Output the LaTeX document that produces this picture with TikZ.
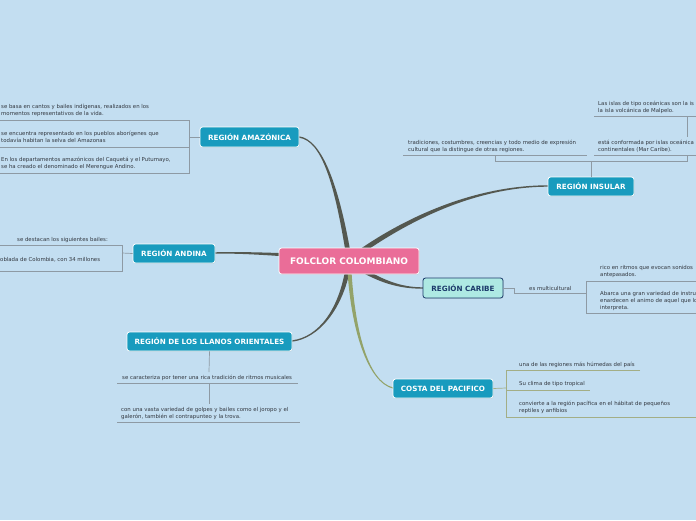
\documentclass[tikz,border=0pt]{standalone}
\usepackage{fontspec}
\setmainfont{DejaVu Sans}
\usetikzlibrary{shadows}
\definecolor{bg}{HTML}{C3DEF1}
\definecolor{tealc}{HTML}{189BBE}
\definecolor{pinkc}{HTML}{EA6D98}
\definecolor{carfill}{HTML}{AEE9E3}
\definecolor{navy}{HTML}{1C3A6B}
\definecolor{txt}{HTML}{333840}
\definecolor{lineg}{HTML}{8E9AA4}
\definecolor{lineo}{HTML}{A3AE86}
\definecolor{branch}{HTML}{545850}
\definecolor{olive}{HTML}{93A36A}
\tikzset{
  topic/.style={rounded corners=2.5pt, draw=white, line width=0.8pt, fill=tealc, text=white,
    font=\bfseries\fontsize{7.2}{8}\selectfont, inner sep=0pt,
    drop shadow={opacity=0.25,shadow xshift=0.6pt,shadow yshift=-0.6pt}},
  sub/.style={font=\fontsize{5.4}{7}\selectfont, text=txt, align=left, inner sep=0pt, anchor=west},
  sline/.style={draw=lineg, line width=0.7pt},
  oline/.style={draw=lineo, line width=0.7pt},
}
\begin{document}
\begin{tikzpicture}[x=1pt,y=-1pt]
\useasboundingbox (0,0) rectangle (696,520);
\fill[bg] (0,0) rectangle (696,520);
\clip (0,0) rectangle (696,520);

% tapered branches
\fill[branch] (351.5,258) .. controls (339,185) and (322,139.3) .. (299,136.3) -- (299,137.7) .. controls (322,140.7) and (335,185) .. (346.5,258) -- cycle;
\fill[branch] (349,255.5) .. controls (300,254) and (250,251.2) .. (215,252.3) -- (215,253.7) .. controls (250,252.8) and (300,258) .. (349,260.5) -- cycle;
\fill[branch] (350.5,262) .. controls (411.5,217) and (480,186.7) .. (548,186.7) -- (548,185.3) .. controls (480,185.3) and (408.5,213) .. (347.5,258) -- cycle;
\fill[branch] (348,264) .. controls (379,284) and (400,288.7) .. (423,288.7) -- (423,287.3) .. controls (400,287.3) and (381,280) .. (350.5,260) -- cycle;
\fill[branch] (346.5,262) .. controls (340,310) and (318,337.3) .. (292,340.3) -- (292,341.7) .. controls (318,338.7) and (344,310) .. (351.5,262) -- cycle;
\fill[olive] (347,262) .. controls (350,330) and (368,382.6) .. (393,388.6) -- (393,387.4) .. controls (368,381.4) and (354,330) .. (351,262) -- cycle;

% nodes
\node[topic, fill=pinkc, minimum width=140pt, minimum height=26pt, font=\bfseries\fontsize{9}{10}\selectfont] (c) at (349,261) {FOLCLOR COLOMBIANO};
\node[topic, minimum width=99pt, minimum height=20pt] (amaz) at (249.5,137) {REGIÓN AMAZÓNICA};
\node[topic, minimum width=82pt, minimum height=19pt] (andina) at (174,253.5) {REGIÓN ANDINA};
\node[topic, minimum width=86pt, minimum height=19pt] (insular) at (591,186.5) {REGIÓN INSULAR};
\node[topic, fill=carfill, draw=navy, text=navy, minimum width=80pt, minimum height=20pt] (caribe) at (463,288) {REGIÓN CARIBE};
\node[topic, minimum width=165pt, minimum height=19pt] (llanos) at (209.5,341.5) {REGIÓN DE LOS LLANOS ORIENTALES};
\node[topic, minimum width=100pt, minimum height=19pt] (pac) at (443,388.5) {COSTA DEL PACIFICO};

% Amazonica
\coordinate (a0) at (189,137);
\coordinate (a1) at (189,120); \coordinate (a1l) at (0,120);
\coordinate (a2) at (189,147); \coordinate (a2l) at (0,147);
\coordinate (a3) at (189,173); \coordinate (a3l) at (0,173);
\draw[sline] (amaz.west) -- (a0);
\draw[sline] (a1l) -- (a1) -- (a3) -- (a3l);
\draw[sline] (a2l) -- (a2);
\node[sub] (am1) at (1,110.5) {se basa en cantos y bailes indígenas, realizados en los\\momentos representativos de la vida.};
\node[sub] (am2) at (1,136.5) {se encuentra representado en los pueblos aborígenes que\\todavía habitan la selva del Amazonas};
\node[sub] (am3) at (1,163.5) {En los departamentos amazónicos del Caquetá y el Putumayo,\\se ha creado el denominado el Merengue Andino.};

% Andina
\coordinate (n0) at (122,253);
\coordinate (n1) at (122,245); \coordinate (n1l) at (0,245);
\coordinate (n2) at (122,271); \coordinate (n2l) at (0,271);
\draw[sline] (andina.west) -- (n0);
\draw[sline] (n1l) -- (n1) -- (n2) -- (n2l);
\node[sub] (an1) at (17,240) {se destacan los siguientes bailes:};
\node[sub] (an2) at (0,260) {oblada de Colombia, con 34 millones};

% Insular
\coordinate (i0) at (591,161);
\coordinate (il) at (495,161); \coordinate (ilt) at (495,155);
\coordinate (ir) at (687,161); \coordinate (irt) at (687,155);
\coordinate (u1a) at (403,155); \coordinate (u1b) at (587,155);
\coordinate (u2a) at (594,155); \coordinate (u2b) at (696,155);
\coordinate (u3a) at (594,116); \coordinate (u3b) at (696,116);
\coordinate (v3a) at (687,116); \coordinate (v3b) at (687,137);
\draw[sline] (insular.north) -- (i0);
\draw[sline] (ilt) -- (il) -- (ir) -- (irt);
\draw[sline] (u1a) -- (u1b);
\draw[sline] (u2a) -- (u2b);
\draw[sline] (u3a) -- (u3b);
\draw[sline] (v3a) -- (v3b);
\node[sub] (in1) at (408,146.5) {tradiciones, costumbres, creencias y todo medio de expresión\\cultural que la distingue de otras regiones.};
\node[sub] (in2) at (598,146.5) {está conformada por islas oceánica\\continentales (Mar Caribe).};
\node[sub] (in3) at (598,107.5) {Las islas de tipo oceánicas son la is\\la isla volcánica de Malpelo.};

% Caribe
\coordinate (k1) at (514,288); \coordinate (k2) at (514,293); \coordinate (k3) at (586,293);
\coordinate (kt) at (586,281); \coordinate (ktr) at (696,281);
\coordinate (kb) at (586,313); \coordinate (kbr) at (696,313);
\draw[sline] (caribe.east) -- (k1) -- (k2) -- (k3);
\draw[sline] (ktr) -- (kt) -- (kb) -- (kbr);
\node[sub] (ca0) at (529,288.5) {es multicultural};
\node[sub] (ca1) at (600,271.5) {rico en ritmos que evocan sonidos\\antepasados.};
\node[sub] (ca2) at (600,301) {Abarca una gran variedad de instru\\enardecen el animo de aquel que lo\\interpreta.};

% Llanos
\coordinate (l1) at (209,372);
\coordinate (l2a) at (117,383); \coordinate (l2b) at (298,383);
\coordinate (l3) at (209,383); \coordinate (l4) at (209,404);
\coordinate (l5a) at (117,422); \coordinate (l5b) at (300,422);
\draw[sline] (llanos.south) -- (l1);
\draw[sline] (l2a) -- (l2b);
\draw[sline] (l3) -- (l4);
\draw[sline] (l5a) -- (l5b);
\node[sub] (ll1) at (122,378) {se caracteriza por tener una rica tradición de ritmos musicales};
\node[sub] (ll2) at (121,413.5) {con una vasta variedad de golpes y bailes como el joropo y el\\galerón, también el contrapunteo y la trova.};

% Pacifico
\coordinate (p0) at (506,388);
\coordinate (p1) at (506,370); \coordinate (p1r) at (640,370);
\coordinate (p2) at (506,390); \coordinate (p2r) at (590,390);
\coordinate (p3) at (506,417); \coordinate (p3r) at (696,417);
\draw[oline] (pac.east) -- (p0);
\draw[oline] (p1r) -- (p1) -- (p3) -- (p3r);
\draw[oline] (p2) -- (p2r);
\node[sub] (pa1) at (519,365) {una de las regiones más húmedas del país};
\node[sub] (pa2) at (519,384.5) {Su clima de tipo tropical};
\node[sub] (pa3) at (519,407.5) {convierte a la región pacífica en el hábitat de pequeños\\reptiles y anfibios};
\end{tikzpicture}
\end{document}
